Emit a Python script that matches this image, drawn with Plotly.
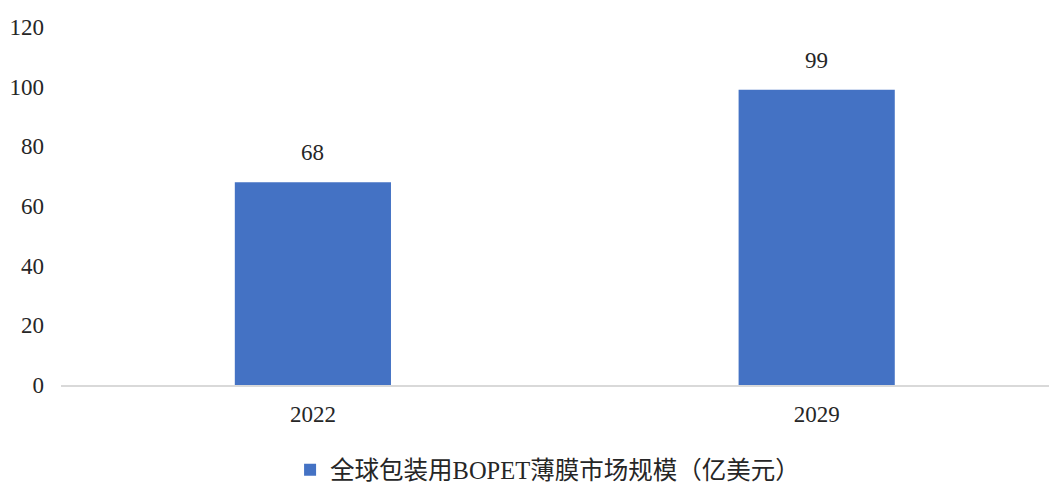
import plotly.graph_objects as go

categories = ["2022", "2029"]
values = [68, 99]
series_name = "全球包装用BOPET薄膜市场规模（亿美元）"
y_ticks = [0, 20, 40, 60, 80, 100, 120]

FONT = "Times New Roman, Liberation Serif, Noto Sans CJK SC, serif"
BLUE = "#4472C4"
TXT = "#262626"

# the page body has an 8px default margin; size the figure to fill the window
W, H, OFF = 1057, 482, 8

fig = go.Figure()
fig.add_trace(go.Bar(
    x=categories, y=values, name=series_name,
    marker=dict(color=BLUE, line=dict(width=0)),
    width=0.31, showlegend=True,
))

for i, v in enumerate(values):
    fig.add_annotation(x=i, y=v, xref="x", yref="y", text=str(v), showarrow=False,
                       yanchor="bottom", yshift=15,
                       font=dict(family=FONT, size=23, color=TXT))

fig.update_layout(
    width=W - OFF, height=H - OFF,
    margin=dict(l=61 - OFF, r=0, t=27 - OFF, b=97, autoexpand=False),
    paper_bgcolor="white", plot_bgcolor="white",
    font=dict(family=FONT, size=23, color=TXT),
    showlegend=True,
    legend=dict(orientation="h", x=0.23, xanchor="left", y=-0.237, yanchor="middle",
                font=dict(family=FONT, size=24.5, color=TXT)),
    xaxis=dict(type="category", range=[-0.5, 1.477], showgrid=False, automargin=False,
               showline=True, linecolor="#D9D9D9", linewidth=1.5,
               ticks="", ticklabelstandoff=8, zeroline=False),
    yaxis=dict(range=[0, 120], tickvals=y_ticks, showgrid=False, zeroline=False,
               automargin=False, showline=False, ticks="", ticklabelstandoff=16),
)

fig.write_html("out.html")
